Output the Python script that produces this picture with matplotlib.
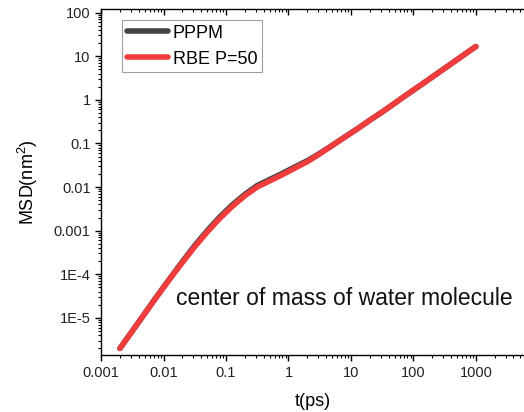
import matplotlib
matplotlib.use("Agg")
import matplotlib.pyplot as plt
from matplotlib.ticker import FixedLocator, FixedFormatter, LogLocator, NullFormatter

plt.rcParams['font.family'] = ['Liberation Sans', 'DejaVu Sans']
plt.rcParams['mathtext.default'] = 'regular'

# data
t_ps = [0.002, 0.00316, 0.005, 0.0079, 0.0126, 0.02, 0.0316, 0.05, 0.079,
        0.126, 0.2, 0.316, 0.5, 0.79, 1.26, 2, 3.16, 5, 7.9, 12.6, 20, 31.6,
        50, 79, 126, 200, 316, 500, 790, 1000]
msd_rbe = [2.0e-6, 5.0e-6, 1.26e-5, 3.16e-5, 7.8e-5, 1.86e-4, 4.3e-4, 9.3e-4,
           1.9e-3, 3.6e-3, 6.3e-3, 0.010, 0.0138, 0.019, 0.027, 0.038, 0.0575,
           0.089, 0.138, 0.214, 0.339, 0.525, 0.83, 1.32, 2.09, 3.31, 5.25,
           8.3, 13.2, 16.6]
msd_pppm = [2.0e-6, 5.0e-6, 1.27e-5, 3.2e-5, 8.0e-5, 1.95e-4, 4.6e-4, 1.0e-3,
            2.05e-3, 3.9e-3, 6.8e-3, 0.0108, 0.0149, 0.0204, 0.0288, 0.040,
            0.059, 0.090, 0.139, 0.215, 0.339, 0.525, 0.83, 1.32, 2.09, 3.31,
            5.25, 8.3, 13.2, 16.6]

xticks = [0.001, 0.01, 0.1, 1, 10, 100, 1000]
xticklabels = ['0.001', '0.01', '0.1', '1', '10', '100', '1000']
yticks = [1e-5, 1e-4, 1e-3, 1e-2, 0.1, 1, 10, 100]
yticklabels = ['1E-5', '1E-4', '0.001', '0.01', '0.1', '1', '10', '100']

fig = plt.figure(figsize=(5.24, 4.12), dpi=100)
ax = fig.add_axes([0.193, 0.138, 0.807, 0.840])

ax.plot(t_ps, msd_pppm, color='#454545', lw=4.0, label='PPPM', solid_capstyle='round')
ax.plot(t_ps, msd_rbe, color='#f03c3c', lw=4.0, label='RBE P=50', solid_capstyle='round')

ax.set_xscale('log')
ax.set_yscale('log')
ax.set_xlim(0.001, 5900)
ax.set_ylim(1.4e-6, 120)

ax.xaxis.set_major_locator(FixedLocator(xticks))
ax.xaxis.set_major_formatter(FixedFormatter(xticklabels))
ax.yaxis.set_major_locator(FixedLocator(yticks))
ax.yaxis.set_major_formatter(FixedFormatter(yticklabels))
ax.xaxis.set_minor_locator(LogLocator(base=10, subs=range(2, 10), numticks=20))
ax.yaxis.set_minor_locator(LogLocator(base=10, subs=range(2, 10), numticks=20))
ax.xaxis.set_minor_formatter(NullFormatter())
ax.yaxis.set_minor_formatter(NullFormatter())

ax.spines['right'].set_visible(False)
for s in ['left', 'bottom', 'top']:
    ax.spines[s].set_linewidth(1.0)

ax.tick_params(axis='both', which='major', direction='out', length=4.5, width=1.0,
               labelsize=10.5, labelcolor='#222222', pad=3)
ax.tick_params(axis='both', which='minor', direction='out', length=2.5, width=0.8)
ax.tick_params(axis='x', which='both', top=True)
# top ticks inward
for tick in ax.xaxis.get_major_ticks() + ax.xaxis.get_minor_ticks():
    tick.tick2line.set_marker(3)

ax.set_xlabel('t(ps)', fontsize=13, labelpad=10)
ax.set_ylabel('MSD(nm$^2$)', fontsize=13, labelpad=10)

leg = ax.legend(loc='upper left', bbox_to_anchor=(0.0496, 0.968), borderaxespad=0,
                fontsize=13, frameon=True, fancybox=False, edgecolor='#888888',
                handlelength=2.3, handletextpad=0.25, borderpad=0.25,
                labelspacing=0.5)
leg.get_frame().set_linewidth(0.8)

ax.text(0.177, 0.163, 'center of mass of water molecule', transform=ax.transAxes,
        fontsize=16.5, va='center', ha='left', color='#111111')

fig.savefig('out.png', dpi=100)
